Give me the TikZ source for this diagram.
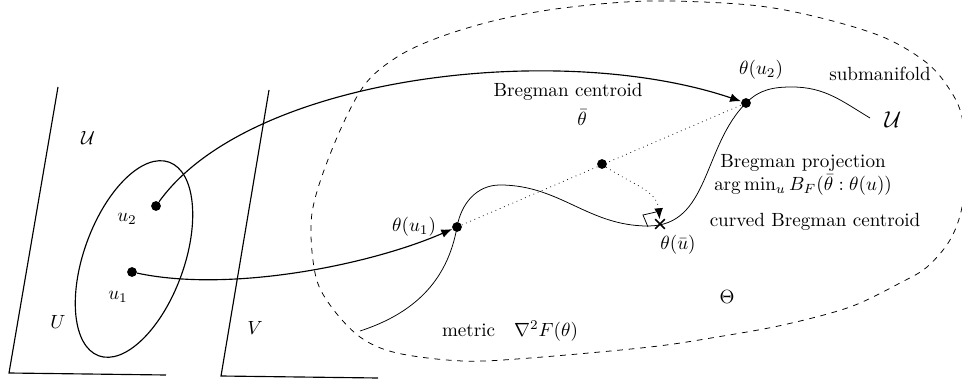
\documentclass[tikz,border=0pt]{standalone}
\usepackage{amsmath,amssymb}
\usetikzlibrary{arrows.meta,shapes.misc}

\begin{document}
\begin{tikzpicture}[x=0.0184cm,y=0.0184cm,
  dot/.style={circle,fill,inner sep=0pt,minimum size=1.8mm},
  xmark/.style={cross out,draw,thick,inner sep=0pt,minimum size=1.5mm},
  map/.style={semithick,-{Latex[length=2mm,width=1.6mm]}},
  plane/.style={semithick}]
  \useasboundingbox (0,0) rectangle (962,385);

  % --- (a) parameter planes U and V ---
  \draw[plane] (58,298) -- (9,12) -- (166,10);
  \draw[plane] (269,295) -- (221,9) -- (378,7);
  \draw[semithick] (134,126) ellipse[x radius=103,y radius=50,rotate=70];
  \node (lcalU) at (88,247) {$\mathcal{U}$};
  \node (lU) at (58,63) {$U$};
  \node (lV) at (255,57) {$V$};
  \node[dot] (u1) at (132,113) {};
  \node[dot] (u2) at (156,179) {};
  \node (lu1) at (118,88) {$u_1$};
  \node (lu2) at (127,166) {$u_2$};

  % --- (b) space Theta ---
  \draw[dashed] plot[smooth cycle,tension=0.55] coordinates {
    (650,384) (750,380) (817,368) (883,348) (927,322) (950,295) (962,268)
    (965,225) (962,178) (950,145) (927,118) (900,102) (850,78) (783,60)
    (717,48) (650,38) (530,27) (463,24) (397,32) (360,48) (330,80)
    (315,112) (312,172) (333,238) (363,298) (397,328) (440,348)
    (497,365) (563,377)};
  \node[dot] (tu1) at (457,158) {};
  \node[dot] (tu2) at (746,282) {};
  \node[dot] (tbar) at (602,221) {};
  \node[xmark] (tubar) at (660,161) {};
  % submanifold
  \draw (360,54) to[out=18,in=-100] (tu1.center)
    to[out=80,in=180] (500,200) to[out=0,in=180] (648,159)
    to[out=0,in=-135] (tu2.center) to[out=45,in=180] (792,298)
    to[out=0,in=149] (870,267);
  % right angle
  \draw ([shift={(-12,-3)}]tubar.center) -- ([shift={(-17,9)}]tubar.center)
    -- ([shift={(-4,12)}]tubar.center);

  % maps
  \draw[map] (u2) .. controls (250,310) and (560,345) .. (tu2);
  \draw[map] (u1) .. controls (230,92) and (370,120) .. (tu1);
  \draw[dotted] (tu1) -- (tu2);
  \draw[dotted,-{Latex[length=2mm,width=1.6mm]}] (tbar) to[out=-35,in=95] (tubar);

  % labels
  \node (ltu1) at (414,158) {$\theta(u_1)$};
  \node (ltu2) at (761,315) {$\theta(u_2)$};
  \node (ltubar) at (678,140) {$\theta(\bar{u})$};
  \node (ltbar) at (582,267) {$\bar{\theta}$};
  \node (lcent) at (568,293) {Bregman centroid};
  \node (lsub) at (880,311) {submanifold};
  \node (lcalU2) at (893,265) {\large$\mathcal{U}$};
  \node[align=center] (lproj) at (803,210)
    {Bregman projection\\$\arg\min_u B_F(\bar{\theta}:\theta(u))$};
  \node (lcurv) at (815,163) {curved Bregman centroid};
  \node (lTheta) at (727,88) {$\Theta$};
  \node (lmetric) at (510,54) {metric\quad$\nabla^2F(\theta)$};
\end{tikzpicture}
\end{document}
